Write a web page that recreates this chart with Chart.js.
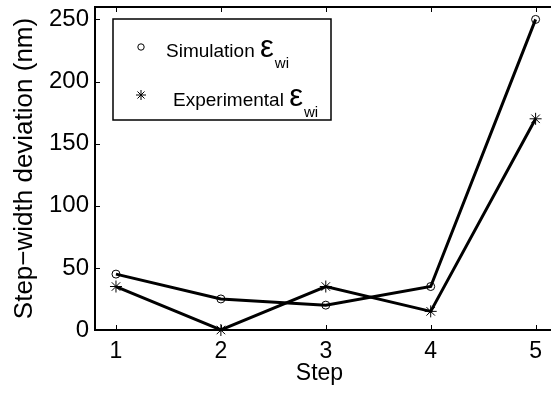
<!DOCTYPE html>
<html>
<head>
<meta charset="utf-8">
<script src="https://cdn.jsdelivr.net/npm/chart.js@4"></script>
<style>
  html, body { margin: 0; padding: 0; background: #fff; }
  #wrap { width: 551px; height: 397px; position: relative; }
</style>
</head>
<body>
<div id="wrap"><canvas id="chart" width="551" height="397"></canvas></div>
<script>
// step-width deviation per step, simulation vs experiment

const steps = [1, 2, 3, 4, 5];
const simulation = [45, 25, 20, 35, 250];
const experimental = [35, 0, 35, 15, 170];
const yTicks = [0, 50, 100, 150, 200, 250];
const legendLabels = ["Simulation", "Experimental"];

const FONT = "'Liberation Sans', Arial, sans-serif";

function toPoints(values) {
  return steps.map((s, i) => ({ x: s, y: values[i] }));
}

// axes lines with inward ticks (matlab style), right side runs off the canvas
const boxPlugin = {
  id: "box",
  afterDatasetsDraw(chart) {
    const { ctx, chartArea: a, scales } = chart;
    ctx.save();
    ctx.strokeStyle = "#000";
    ctx.lineWidth = 2;
    ctx.beginPath();
    ctx.moveTo(chart.width + 2, a.top);
    ctx.lineTo(a.left, a.top);
    ctx.lineTo(a.left, a.bottom);
    ctx.lineTo(chart.width + 2, a.bottom);
    ctx.stroke();
    ctx.lineWidth = 1;
    steps.forEach((s) => {
      const x = Math.round(scales.x.getPixelForValue(s)) + 0.5;
      ctx.beginPath();
      ctx.moveTo(x, a.bottom); ctx.lineTo(x, a.bottom - 5);
      ctx.moveTo(x, a.top); ctx.lineTo(x, a.top + 5);
      ctx.stroke();
    });
    yTicks.forEach((v) => {
      const y = Math.round(scales.y.getPixelForValue(v)) + 0.5;
      ctx.beginPath();
      ctx.moveTo(a.left, y); ctx.lineTo(a.left + 5, y);
      ctx.stroke();
    });
    ctx.restore();
  },
};

// legend drawn by hand so the epsilon + subscript fit
const legendPlugin = {
  id: "epsLegend",
  afterDraw(chart) {
    const ctx = chart.ctx;
    ctx.save();
    ctx.fillStyle = "#fff";
    ctx.fillRect(113, 19, 218, 101);
    ctx.strokeStyle = "#000";
    ctx.lineWidth = 1.5;
    ctx.strokeRect(113, 19, 218, 101);

    // circle marker
    ctx.lineWidth = 1;
    ctx.beginPath();
    ctx.arc(141, 47, 3.2, 0, Math.PI * 2);
    ctx.stroke();
    // asterisk marker
    ctx.beginPath();
    const r = 5, cx = 141, cy = 95;
    for (let k = 0; k < 4; k++) {
      const ang = (k * Math.PI) / 4;
      ctx.moveTo(cx - r * Math.cos(ang), cy - r * Math.sin(ang));
      ctx.lineTo(cx + r * Math.cos(ang), cy + r * Math.sin(ang));
    }
    ctx.stroke();

    ctx.fillStyle = "#000";
    ctx.textBaseline = "alphabetic";
    const rows = [
      { x: 166, y: 57, label: legendLabels[0] },
      { x: 173, y: 106, label: legendLabels[1] },
    ];
    rows.forEach((row) => {
      ctx.font = "19px " + FONT;
      ctx.fillText(row.label + " ", row.x, row.y);
      let x = row.x + ctx.measureText(row.label + " ").width;
      ctx.font = "31px " + FONT;
      ctx.fillText("\u03B5", x, row.y);
      x += ctx.measureText("\u03B5").width + 1;
      ctx.font = "15px " + FONT;
      ctx.fillText("wi", x, row.y + 11);
    });
    ctx.restore();
  },
};

new Chart(document.getElementById("chart"), {
  type: "line",
  data: {
    datasets: [
      {
        label: legendLabels[0],
        data: toPoints(simulation),
        borderColor: "#000",
        backgroundColor: "rgba(0,0,0,0)",
        borderWidth: 3,
        pointStyle: "circle",
        pointRadius: 4,
        pointBorderWidth: 1,
        pointBorderColor: "#000",
        pointBackgroundColor: "rgba(0,0,0,0)",
        tension: 0,
      },
      {
        label: legendLabels[1],
        data: toPoints(experimental),
        borderColor: "#000",
        backgroundColor: "rgba(0,0,0,0)",
        borderWidth: 3,
        pointStyle: "star",
        pointRadius: 6,
        pointBorderWidth: 1,
        pointBorderColor: "#000",
        tension: 0,
        clip: false,
      },
    ],
  },
  options: {
    responsive: false,
    animation: false,
    events: [],
    layout: { padding: { top: 7, right: 0, left: 0, bottom: 0 } },
    plugins: { legend: { display: false }, tooltip: { enabled: false } },
    scales: {
      x: {
        type: "linear",
        min: 0.8,
        max: 5.08,
        afterBuildTicks: (scale) => { scale.ticks = steps.map((v) => ({ value: v })); },
        afterFit: (scale) => {
          scale.height = 67;
          scale.paddingLeft = 0;
          scale.paddingRight = 0;
        },
        grid: { display: false, drawTicks: false },
        border: { display: false },
        ticks: { color: "#000", font: { family: FONT, size: 23 }, padding: 8, maxRotation: 0 },
        title: { display: true, text: "Step", color: "#000", font: { family: FONT, size: 23 }, padding: { top: 0, bottom: 10 } },
      },
      y: {
        min: 0,
        max: 260,
        afterBuildTicks: (scale) => { scale.ticks = yTicks.map((v) => ({ value: v })); },
        afterFit: (scale) => {
          scale.width = 95;
          scale.paddingTop = 0;
          scale.paddingBottom = 0;
        },
        grid: { display: false, drawTicks: false },
        border: { display: false },
        ticks: { color: "#000", font: { family: FONT, size: 24 }, padding: 6 },
        title: { display: true, text: "Step\u2212width deviation (nm)", color: "#000", font: { family: FONT, size: 26 }, padding: { top: 9, bottom: 0 } },
      },
    },
  },
  plugins: [boxPlugin, legendPlugin],
});
</script>
</body>
</html>
